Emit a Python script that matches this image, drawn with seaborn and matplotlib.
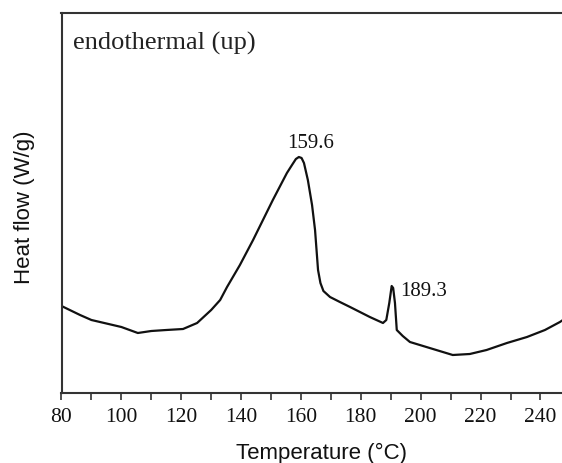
import matplotlib
matplotlib.use("Agg")
import matplotlib.pyplot as plt
import seaborn as sns
import pandas as pd

# DSC curve (heat flow in arbitrary units, endothermal up)
temperature = [80.0, 86.2, 90.0, 100.0, 105.5, 110.0, 115.0, 120.6, 125.3, 130.0,
               133.0, 135.3, 139.6, 144.0, 150.6, 155.3, 157.0, 158.3, 159.3, 160.2,
               161.0, 162.3, 163.7, 164.7, 165.7, 166.5, 167.5, 169.7, 173.0, 176.4,
               179.7, 183.0, 187.4, 188.5, 189.5, 190.3, 190.8, 191.4, 192.0, 194.0,
               196.4, 203.0, 210.7, 216.4, 222.0, 228.8, 235.5, 241.5, 246.5, 247.5]
heat_flow = [0.87, 0.78, 0.73, 0.66, 0.60, 0.62, 0.63, 0.64, 0.70, 0.83,
             0.93, 1.06, 1.28, 1.53, 1.93, 2.20, 2.28, 2.34, 2.36, 2.35,
             2.30, 2.13, 1.88, 1.63, 1.23, 1.10, 1.02, 0.96, 0.91, 0.86,
             0.81, 0.76, 0.70, 0.73, 0.90, 1.07, 1.05, 0.90, 0.63, 0.57,
             0.51, 0.45, 0.38, 0.39, 0.43, 0.50, 0.56, 0.63, 0.71, 0.73]

peak_labels = ["159.6", "189.3"]
peak_temps = [163.3, 193.1]
peak_heights = [2.49, 1.01]
x_ticks = [80, 100, 120, 140, 160, 180, 200, 220, 240]

df = pd.DataFrame({"Temperature": temperature, "Heat flow": heat_flow})

sns.set_theme(style="white")
plt.rcParams["font.family"] = ["Liberation Sans", "DejaVu Sans"]

fig = plt.figure(figsize=(5.62, 4.63), dpi=100)
ax = fig.add_axes([61.5 / 562, 1 - 393 / 463, 1 - 61.5 / 562, 380 / 463])

sns.lineplot(data=df, x="Temperature", y="Heat flow", ax=ax, color="#111111",
             linewidth=1.6, sort=False)

ax.set_xlim(80, 247.2)
ax.set_ylim(0, 3.80)
ax.set_yticks([])
ax.set_xticks(x_ticks)
ax.set_xticks(range(90, 250, 20), minor=True)
ax.set_xticklabels([str(t) for t in x_ticks], family="Liberation Serif", fontsize=15.5)
ax.tick_params(axis="x", which="both", direction="out", length=5, width=1.2,
               color="#333333", bottom=True, pad=6, labelcolor="#111111")

for side in ["left", "top", "bottom"]:
    ax.spines[side].set_color("#333333")
    ax.spines[side].set_linewidth(1.5)
ax.spines["right"].set_visible(False)

ax.set_xlabel("Temperature (°C)", fontsize=16, color="#111111")
ax.set_ylabel("Heat flow (W/g)", fontsize=16, color="#111111")
ax.xaxis.set_label_coords(0.52, -0.13)
ax.yaxis.set_label_coords(-0.053, 0.49)

for lab, t, h in zip(peak_labels, peak_temps, peak_heights):
    ha = "center" if lab == "159.6" else "left"
    ax.text(t, h, lab, ha=ha, va="center", family="Liberation Serif",
            fontsize=15, color="#111111")

ax.text(0.023, 0.921, "endothermal (up)", transform=ax.transAxes, ha="left",
        va="center", family="Liberation Serif", fontsize=19, color="#222222")

fig.savefig("out.png", dpi=100)
